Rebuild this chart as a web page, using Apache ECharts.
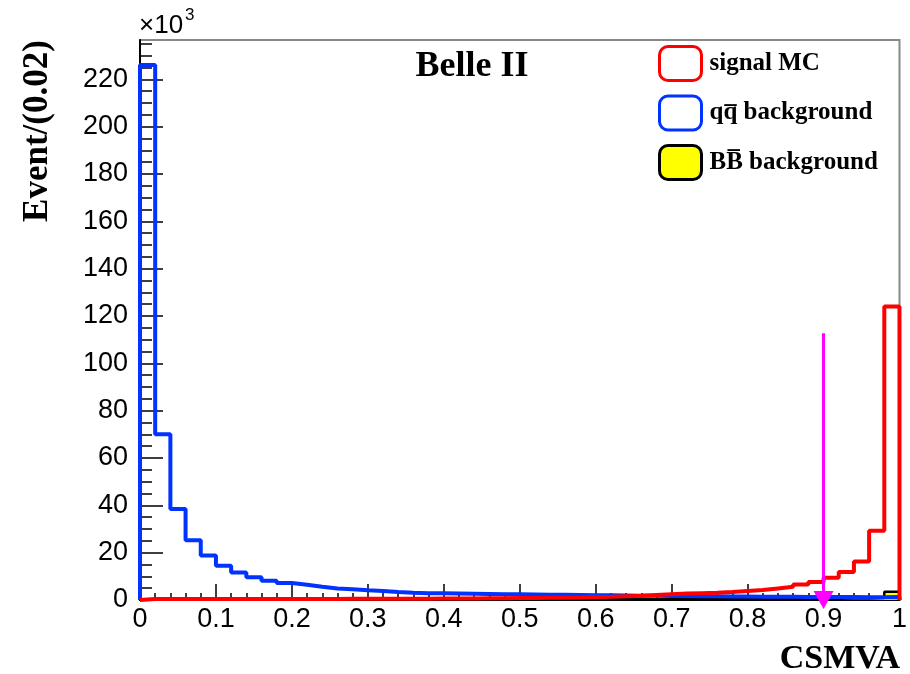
<!DOCTYPE html>
<html>
<head>
<meta charset="utf-8">
<script src="https://cdn.jsdelivr.net/npm/echarts@6/dist/echarts.min.js"></script>
<style>
html,body{margin:0;padding:0;background:#fff;}
#chart{width:910px;height:674px;}
</style>
</head>
<body>
<div id="chart"></div>
<script>
// ---- data (values in units of 10^3 events per 0.02 bin) ----
const binWidth = 0.02;
const signalMC = [
  0.4,0.4,0.4,0.4,0.4, 0.4,0.4,0.4,0.4,0.4,
  0.4,0.4,0.4,0.5,0.5, 0.5,0.5,0.5,0.5,0.6,
  0.6,0.6,0.7,0.7,0.8, 0.8,0.9,1.0,1.1,1.3,
  1.4,1.6,1.8,2.1,2.4, 2.7,2.9,3.1,3.4,3.8,
  4.2,4.9,5.6,6.6,7.6, 9.4,11.8,16.3,29.3,124
];
const qqBackground = [
  226,70,38.5,25.2,18.8, 14.5,11.6,9.6,8.1,7.2,
  6.4,5.6,4.9,4.5,4.1, 3.8,3.4,3.1,2.9,2.8,
  2.7,2.6,2.5,2.4,2.4, 2.3,2.2,2.2,2.1,2.0,
  2.0,1.9,1.8,1.8,1.7, 1.7,1.6,1.6,1.5,1.5,
  1.4,1.4,1.4,1.3,1.3, 1.3,1.3,1.2,1.2,1.3
];
const bbBackground = [
  0.2,0.2,0.2,0.2,0.2, 0.2,0.2,0.2,0.2,0.2,
  0.2,0.2,0.2,0.2,0.2, 0.2,0.2,0.2,0.2,0.2,
  0.2,0.2,0.2,0.2,0.2, 0.2,0.2,0.3,0.3,0.3,
  0.3,0.3,0.3,0.3,0.3, 0.3,0.3,0.4,0.4,0.4,
  0.4,0.4,0.5,0.5,0.5, 0.5,0.6,0.6,0.8,3.5
];
const seriesNames = ['signal MC', 'qq\u0305 background', 'BB\u0305 background'];
const yTickValues = [0,20,40,60,80,100,120,140,160,180,200,220];
const yMax = 236.6;
const cutValue = 0.9;
const arrowTop = 112.7;

function toSteps(values) {
  const pts = [[0, 0]];
  values.forEach((v, i) => pts.push([+(i * binWidth).toFixed(4), v]));
  const lastX = +(values.length * binWidth).toFixed(4);
  pts.push([lastX, values[values.length - 1]]);
  pts.push([lastX, 0]);
  return pts;
}

const serif = '"Liberation Serif", "DejaVu Serif", serif';
const sans = '"Liberation Sans", Arial, sans-serif';

const chart = echarts.init(document.getElementById('chart'), null, {renderer: 'canvas'});
chart.setOption({
  animation: false,
  backgroundColor: '#fff',
  grid: {left: 140, right: 8, top: 40, bottom: 74, show: true, borderColor: '#888', borderWidth: 2, backgroundColor: 'transparent'},
  xAxis: {
    type: 'value', min: 0, max: 1, interval: 0.1,
    axisLine: {show: true, onZero: false, lineStyle: {color: '#000', width: 2}},
    axisTick: {show: true, inside: true, length: 16, lineStyle: {color: '#000', width: 1.5}},
    minorTick: {show: true, splitNumber: 5, length: 7, lineStyle: {color: '#000', width: 1.5}},
    axisLabel: {fontFamily: sans, fontSize: 27, color: '#000', margin: 6},
    splitLine: {show: false}
  },
  yAxis: {
    type: 'value', min: 0, max: yMax, interval: 20,
    axisLine: {show: true, lineStyle: {color: '#000', width: 2}},
    axisTick: {show: true, inside: true, length: 23, customValues: yTickValues, lineStyle: {color: '#000', width: 1.5}},
    minorTick: {show: true, splitNumber: 4, length: 12, lineStyle: {color: '#000', width: 1.5}},
    axisLabel: {fontFamily: sans, fontSize: 27, color: '#000', margin: 12, customValues: yTickValues},
    splitLine: {show: false}
  },
  legend: {
    orient: 'vertical', left: 658, top: 45, padding: 0, itemWidth: 42, itemHeight: 34, itemGap: 12.5,
    icon: 'roundRect', selectedMode: false,
    textStyle: {fontFamily: serif, fontWeight: 'bold', fontSize: 25, lineHeight: 34, color: '#000', padding: [0,0,0,3]},
    data: [
      {name: seriesNames[0], itemStyle: {color: '#fff', borderColor: '#ff0000', borderWidth: 3}},
      {name: seriesNames[1], itemStyle: {color: '#fff', borderColor: '#0033ff', borderWidth: 3}},
      {name: seriesNames[2], itemStyle: {color: '#ffff00', borderColor: '#000', borderWidth: 3}}
    ]
  },
  graphic: [
    {type: 'text', x: 472, y: 67, style: {text: 'Belle II', font: 'bold 36px ' + serif, fill: '#000', textAlign: 'center', textVerticalAlign: 'middle'}},
    {type: 'text', x: 38, y: 131, rotation: Math.PI / 2, style: {text: 'Event/(0.02)', font: 'bold 35px ' + serif, fill: '#000', textAlign: 'center', textVerticalAlign: 'middle'}},
    {type: 'text', x: 900, y: 659, style: {text: 'CSMVA', font: 'bold 34px ' + serif, fill: '#000', textAlign: 'right', textVerticalAlign: 'middle'}},
    {type: 'text', x: 139, y: 26, style: {text: '\u00d710', font: '26px ' + sans, fill: '#000', textAlign: 'left', textVerticalAlign: 'middle'}},
    {type: 'text', x: 185, y: 15, style: {text: '3', font: '17px ' + sans, fill: '#000', textAlign: 'left', textVerticalAlign: 'middle'}}
  ],
  series: [
    {
      name: seriesNames[2], type: 'line', step: 'end', showSymbol: false, z: 2,
      data: toSteps(bbBackground),
      lineStyle: {color: '#000', width: 2.5}, itemStyle: {color: '#ffff00'},
      areaStyle: {color: '#ffff00', opacity: 1}
    },
    {
      name: seriesNames[1], type: 'line', step: 'end', showSymbol: false, z: 3,
      data: toSteps(qqBackground),
      lineStyle: {color: '#0033ff', width: 4}, itemStyle: {color: '#0033ff'}
    },
    {
      name: seriesNames[0], type: 'line', step: 'end', showSymbol: false, z: 4,
      data: toSteps(signalMC),
      lineStyle: {color: '#ff0000', width: 4}, itemStyle: {color: '#ff0000'},
      markLine: {
        silent: true, animation: false, z: 10,
        lineStyle: {color: '#ff00ff', width: 3, type: 'solid'},
        label: {show: false},
        symbol: ['none', 'triangle'], symbolSize: [20, 18],
        data: [[{coord: [cutValue, arrowTop]}, {coord: [cutValue, 0]}]]
      }
    }
  ]
});
</script>
</body>
</html>
